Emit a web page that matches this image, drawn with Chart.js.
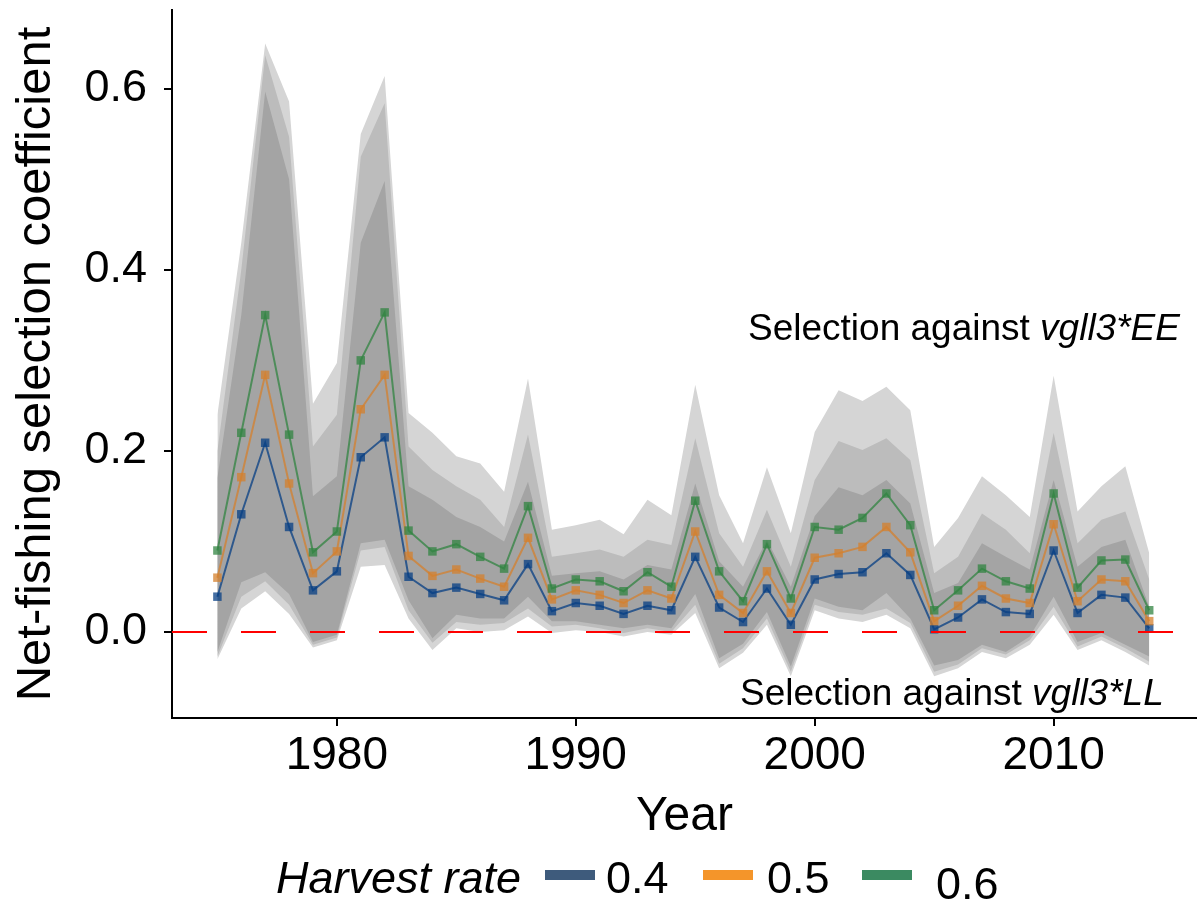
<!DOCTYPE html>
<html>
<head>
<meta charset="utf-8">
<script src="https://cdn.jsdelivr.net/npm/chart.js@4.4.1/dist/chart.umd.min.js"></script>
<style>
  html, body { margin: 0; padding: 0; background: #ffffff; }
  #wrap { width: 1197px; height: 900px; }
</style>
</head>
<body>
<div id="wrap"><canvas id="chart" width="1197" height="900"></canvas></div>
<script>
// Years of the series
const years = [1975, 1976, 1977, 1978, 1979, 1980, 1981, 1982, 1983, 1984,
               1985, 1986, 1987, 1988, 1989, 1990, 1991, 1992, 1993, 1994,
               1995, 1996, 1997, 1998, 1999, 2000, 2001, 2002, 2003, 2004,
               2005, 2006, 2007, 2008, 2009, 2010, 2011, 2012, 2013, 2014];

// Mean net-fishing selection coefficient for each harvest rate
const harvestRates = ['0.4', '0.5', '0.6'];
const sel04 = [0.039, 0.130, 0.209, 0.116, 0.046, 0.067, 0.193, 0.215, 0.061, 0.043,
               0.049, 0.042, 0.035, 0.075, 0.023, 0.032, 0.029, 0.020, 0.029, 0.024,
               0.083, 0.027, 0.011, 0.048, 0.008, 0.058, 0.064, 0.066, 0.087, 0.063,
               0.003, 0.016, 0.036, 0.022, 0.020, 0.090, 0.021, 0.041, 0.038, 0.004];
const sel05 = [0.060, 0.171, 0.284, 0.164, 0.065, 0.089, 0.246, 0.284, 0.084, 0.062,
               0.069, 0.059, 0.050, 0.104, 0.036, 0.046, 0.041, 0.032, 0.046, 0.037,
               0.111, 0.041, 0.021, 0.067, 0.021, 0.082, 0.087, 0.094, 0.116, 0.088,
               0.012, 0.029, 0.051, 0.037, 0.032, 0.119, 0.034, 0.058, 0.056, 0.012];
const sel06 = [0.090, 0.220, 0.350, 0.218, 0.088, 0.111, 0.300, 0.353, 0.112, 0.089,
               0.097, 0.083, 0.070, 0.139, 0.048, 0.058, 0.056, 0.045, 0.066, 0.050,
               0.145, 0.067, 0.034, 0.097, 0.037, 0.116, 0.113, 0.126, 0.153, 0.118,
               0.024, 0.046, 0.070, 0.056, 0.048, 0.153, 0.049, 0.079, 0.080, 0.024];

// Uncertainty ribbons: outer (light), middle and inner (dark)
const outerUpper = [0.240, 0.430, 0.650, 0.586, 0.252, 0.297, 0.550, 0.614, 0.242, 0.220,
                    0.194, 0.186, 0.155, 0.280, 0.113, 0.118, 0.124, 0.108, 0.146, 0.129,
                    0.273, 0.151, 0.098, 0.182, 0.109, 0.221, 0.267, 0.255, 0.271, 0.245,
                    0.094, 0.126, 0.172, 0.151, 0.127, 0.283, 0.133, 0.161, 0.183, 0.087];
const outerLower = [-0.030, 0.026, 0.045, 0.020, -0.017, -0.009, 0.072, 0.074, 0.015, -0.020,
                    0.004, 0.000, 0.002, 0.017, -0.001, 0.002, 0.000, -0.005, 0.000, -0.003,
                    0.021, -0.040, -0.023, 0.008, -0.049, 0.024, 0.015, 0.011, 0.019, 0.004,
                    -0.049, -0.040, -0.022, -0.029, -0.014, 0.019, -0.020, -0.009, -0.022, -0.037];
const midUpper = [0.200, 0.400, 0.637, 0.547, 0.205, 0.240, 0.525, 0.584, 0.205, 0.179,
                  0.161, 0.146, 0.116, 0.218, 0.083, 0.087, 0.091, 0.083, 0.102, 0.096,
                  0.214, 0.109, 0.072, 0.135, 0.072, 0.168, 0.211, 0.201, 0.214, 0.190,
                  0.065, 0.083, 0.131, 0.113, 0.087, 0.220, 0.098, 0.124, 0.133, 0.058];
const midLower = [-0.027, 0.039, 0.056, 0.030, -0.014, -0.006, 0.090, 0.094, 0.024, -0.012,
                  0.011, 0.008, 0.010, 0.026, 0.006, 0.008, 0.004, -0.001, 0.004, 0.000,
                  0.030, -0.035, -0.018, 0.015, -0.044, 0.030, 0.022, 0.019, 0.026, 0.010,
                  -0.044, -0.036, -0.018, -0.025, -0.009, 0.028, -0.016, -0.005, -0.018, -0.033];
const innerUpper = [0.170, 0.350, 0.597, 0.500, 0.150, 0.172, 0.430, 0.498, 0.161, 0.146,
                    0.127, 0.116, 0.100, 0.166, 0.062, 0.065, 0.067, 0.058, 0.074, 0.069,
                    0.164, 0.078, 0.050, 0.102, 0.050, 0.128, 0.160, 0.151, 0.168, 0.142,
                    0.043, 0.054, 0.098, 0.083, 0.069, 0.168, 0.072, 0.094, 0.102, 0.028];
const innerLower = [-0.022, 0.055, 0.066, 0.042, -0.011, -0.003, 0.098, 0.102, 0.035, -0.007,
                    0.019, 0.015, 0.015, 0.039, 0.012, 0.012, 0.008, 0.004, 0.008, 0.004,
                    0.042, -0.029, -0.013, 0.022, -0.038, 0.037, 0.028, 0.024, 0.043, 0.015,
                    -0.037, -0.031, -0.014, -0.022, -0.005, 0.039, -0.011, -0.001, -0.014, -0.027];

// Axis ticks
const xTicks = [1980, 1990, 2000, 2010];
const yTicks = [0.0, 0.2, 0.4, 0.6];

const FONT = "'Liberation Sans', Arial, Helvetica, sans-serif";
const lineColors = {
  '0.4': 'rgba(7, 63, 132, 0.75)',
  '0.5': 'rgba(212, 128, 45, 0.75)',
  '0.6': 'rgba(49, 132, 65, 0.75)'
};
const keyColors = { '0.4': '#3e5b7c', '0.5': '#f4952a', '0.6': '#3b8a61' };
const bandColors = { outer: '#d5d5d5', mid: '#bcbcbc', inner: '#a4a4a4' };

const pts = vals => years.map((yr, i) => ({ x: yr, y: vals[i] }));

function seriesLine(label, vals) {
  return {
    label: label,
    data: pts(vals),
    borderColor: lineColors[label],
    backgroundColor: lineColors[label],
    borderWidth: 2,
    pointStyle: 'rect',
    pointRadius: 6,
    pointBorderWidth: 0,
    pointHoverRadius: 6,
    tension: 0,
    fill: false
  };
}
function bandEdge(vals, fillColor) {
  return {
    label: '',
    data: pts(vals),
    borderWidth: 0,
    borderColor: 'rgba(0,0,0,0)',
    pointRadius: 0,
    pointHoverRadius: 0,
    tension: 0,
    backgroundColor: fillColor || 'rgba(0,0,0,0)',
    fill: fillColor ? '-1' : false
  };
}

// Dashed zero reference line
const zeroLine = {
  id: 'zeroLine',
  afterDatasetsDraw(chart) {
    const { ctx, chartArea, scales } = chart;
    const y = scales.y.getPixelForValue(0);
    ctx.save();
    ctx.strokeStyle = '#ff0000';
    ctx.lineWidth = 2.2;
    ctx.setLineDash([35, 34]);
    ctx.beginPath();
    ctx.moveTo(chartArea.left, y);
    ctx.lineTo(chartArea.right, y);
    ctx.stroke();
    ctx.restore();
  }
};

// Direction labels and the harvest-rate key
const textLayer = {
  id: 'textLayer',
  afterDraw(chart) {
    const ctx = chart.ctx;
    ctx.save();
    ctx.fillStyle = '#000';
    ctx.textBaseline = 'alphabetic';
    ctx.textAlign = 'left';

    function mixed(x, y, plain, italic, size) {
      ctx.font = size + 'px ' + FONT;
      ctx.fillText(plain, x, y);
      const w = ctx.measureText(plain).width;
      ctx.font = 'italic ' + size + 'px ' + FONT;
      ctx.fillText(italic, x + w, y);
    }
    mixed(748, 340, 'Selection against ', 'vgll3*EE', 37);
    mixed(740, 705, 'Selection against ', 'vgll3*LL', 37);

    // key
    ctx.font = 'italic 45px ' + FONT;
    ctx.fillText('Harvest rate', 276, 893);
    const keyPos = { '0.4': [545, 606, 893], '0.5': [703, 767, 893], '0.6': [862, 936, 899] };
    harvestRates.forEach(r => {
      const [kx, tx, ty] = keyPos[r];
      ctx.fillStyle = keyColors[r];
      ctx.fillRect(kx, 870, 50, 10);
      ctx.fillStyle = '#000';
      ctx.font = '45px ' + FONT;
      ctx.fillText(r, tx, ty);
    });
    ctx.restore();
  }
};

const datasets = [
  seriesLine('0.6', sel06),
  seriesLine('0.5', sel05),
  seriesLine('0.4', sel04),
  bandEdge(innerUpper),
  bandEdge(innerLower, bandColors.inner),
  bandEdge(midUpper),
  bandEdge(midLower, bandColors.mid),
  bandEdge(outerUpper),
  bandEdge(outerLower, bandColors.outer)
];

function noEdgePadding(scale) {
  scale.paddingTop = 0;
  scale.paddingBottom = 0;
  scale.paddingLeft = 0;
  scale.paddingRight = 0;
}

new Chart(document.getElementById('chart'), {
  type: 'line',
  data: { datasets: datasets },
  options: {
    responsive: false,
    animation: false,
    devicePixelRatio: 1,
    layout: { autoPadding: false, padding: { left: 0, right: 0, top: 10, bottom: 0 } },
    plugins: {
      legend: { display: false },
      tooltip: { enabled: false },
      filler: { propagate: false }
    },
    scales: {
      x: {
        type: 'linear',
        min: 1973.1,
        max: 2016.0,
        afterFit(scale) { scale.height = 182; noEdgePadding(scale); },
        afterBuildTicks(scale) { scale.ticks = xTicks.map(v => ({ value: v })); },
        ticks: {
          color: '#000',
          padding: 3,
          font: { family: FONT, size: 46 },
          callback: v => String(v)
        },
        grid: { drawOnChartArea: false, drawTicks: true, tickLength: 8, color: '#000', lineWidth: 2 },
        border: { display: true, color: '#000', width: 2 },
        title: {
          display: true,
          text: 'Year',
          color: '#000',
          font: { family: FONT, size: 48 },
          padding: { top: 0, bottom: 54 }
        }
      },
      y: {
        type: 'linear',
        min: -0.095,
        max: 0.687,
        afterFit(scale) { scale.width = 172; noEdgePadding(scale); },
        afterBuildTicks(scale) { scale.ticks = yTicks.map(v => ({ value: v })); },
        ticks: {
          color: '#000',
          padding: 17,
          font: { family: FONT, size: 45 },
          callback: v => Number(v).toFixed(1)
        },
        grid: { drawOnChartArea: false, drawTicks: true, tickLength: 8, color: '#000', lineWidth: 2 },
        border: { display: true, color: '#000', width: 2 },
        title: {
          display: true,
          text: 'Net-fishing selection coefficient',
          color: '#000',
          font: { family: FONT, size: 49 },
          padding: { top: 7, bottom: 0 }
        }
      }
    }
  },
  plugins: [zeroLine, textLayer]
});
</script>
</body>
</html>
